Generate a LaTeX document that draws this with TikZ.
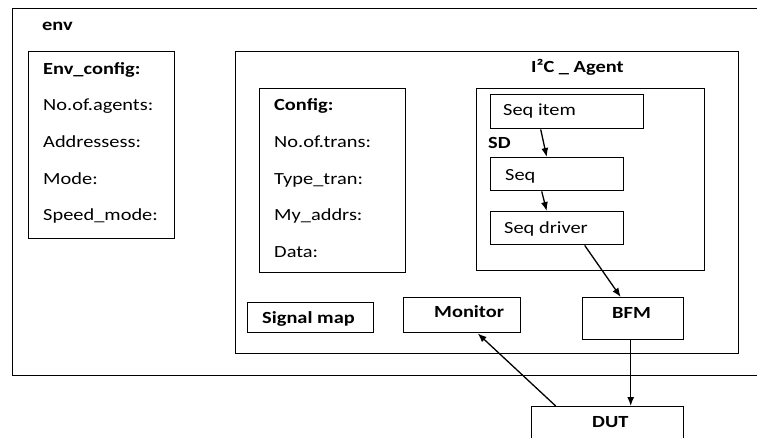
\documentclass[tikz,border=0pt]{standalone}
\usepackage{fontspec}
\setmainfont{Carlito}[FakeStretch=1.2]
\usetikzlibrary{arrows.meta}

\begin{document}
\begin{tikzpicture}[x=1pt,y=-1pt,
   blk/.style={draw, line width=1.4pt, inner sep=0pt, anchor=north west},
   txt/.style={anchor=base west, inner sep=0pt, font=\fontsize{17}{19}\selectfont},
   btxt/.style={txt, font=\fontsize{17}{19}\selectfont\bfseries},
   flow/.style={line width=1.3pt, -{Latex[length=9pt,width=7pt]}}]
   \clip (0,0) rectangle (757,437);
   % outer env, runs off to the right
   \node[blk, minimum width=800pt, minimum height=367pt] (env) at (12,8) {};
   \node[btxt] (envlbl) at (42,30) {env};
   \node[blk, minimum width=146pt, minimum height=187pt] (envcfg) at (28,51) {};
   \node[btxt] (ec0) at (43,74) {Env\_config:};
   \node[txt] (ec1) at (43,110) {No.of.agents:};
   \node[txt] (ec2) at (43,147) {Addressess:};
   \node[txt] (ec3) at (43,184) {Mode:};
   \node[txt] (ec4) at (43,220) {Speed\_mode:};
   % agent
   \node[blk, minimum width=503pt, minimum height=302pt] (agent) at (235,51) {};
   \node[btxt] (agentlbl) at (531,72) {I²C \_ Agent};
   \node[blk, minimum width=146pt, minimum height=184pt] (cfg) at (259,88) {};
   \node[btxt] (cf0) at (274,110) {Config:};
   \node[txt] (cf1) at (274,147) {No.of.trans:};
   \node[txt] (cf2) at (274,184) {Type\_tran:};
   \node[txt] (cf3) at (274,220) {My\_addrs:};
   \node[txt] (cf4) at (274,257) {Data:};
   % sequencer / driver
   \node[blk, minimum width=228pt, minimum height=182pt] (sd) at (476,88) {};
   \node[btxt] (sdlbl) at (488,148) {SD};
   \node[blk, minimum width=153pt, minimum height=34pt] (seqitem) at (490,94) {};
   \node[txt] at (503,115) {Seq item};
   \node[blk, minimum width=133pt, minimum height=33pt] (seq) at (490,157) {};
   \node[txt] at (505,180) {Seq};
   \node[blk, minimum width=133pt, minimum height=33pt] (seqdrv) at (490,211) {};
   \node[txt] at (504,233) {Seq driver};
   % bottom row
   \node[blk, minimum width=126pt, minimum height=30pt] (sigmap) at (247,302) {};
   \node[btxt] at (262,323) {Signal map};
   \node[blk, minimum width=117pt, minimum height=35pt] (mon) at (403,297) {};
   \node[btxt] at (434,317) {Monitor};
   \node[blk, minimum width=101pt, minimum height=42pt] (bfm) at (582,297) {};
   \node[btxt] at (612,318) {BFM};
   \node[blk, minimum width=152pt, minimum height=45pt] (dut) at (531,406) {};
   \node[btxt] at (592,427) {DUT};

   \draw[flow] ([xshift=-26.5pt]seqitem.south) -- ([xshift=-10.5pt]seq.north);
   \draw[flow] ([xshift=-15.5pt]seq.south) -- ([xshift=-10.5pt]seqdrv.north);
   \draw[flow] ([xshift=27.5pt]seqdrv.south) -- ([xshift=-12.5pt]bfm.north);
   \draw[flow] ([xshift=-2.5pt]bfm.south) -- ([xshift=23pt]dut.north);
   \draw[flow] ([xshift=-52pt]dut.north) -- ([xshift=15.5pt]mon.south);
\end{tikzpicture}
\end{document}
